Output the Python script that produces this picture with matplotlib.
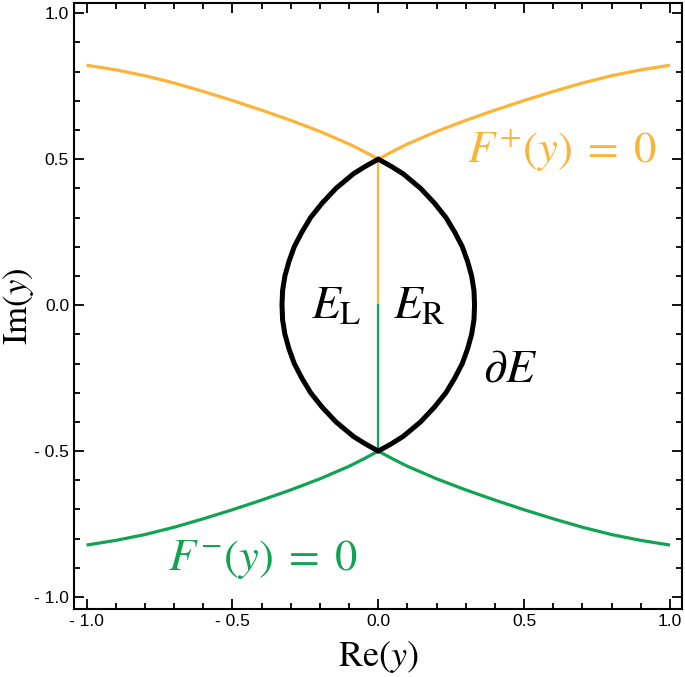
import numpy as np
import matplotlib
matplotlib.use("Agg")
import matplotlib.pyplot as plt
from matplotlib.patches import Polygon
from matplotlib.ticker import MultipleLocator

plt.rcParams['mathtext.fontset'] = 'stix'
plt.rcParams['font.family'] = ['Liberation Sans', 'DejaVu Sans']

# F+(y)=0 branch, right half, mirrored for the left half
fp_x = [0.0, 0.05, 0.1, 0.2, 0.3, 0.4, 0.5, 0.6, 0.7, 0.8, 0.9, 1.0]
fp_y = [0.5, 0.527, 0.552, 0.595, 0.633, 0.668, 0.701, 0.732, 0.761, 0.786, 0.806, 0.822]

# boundary dE: half-width of the lens vs Im(y), upper half
lens_y = [0.0, 0.05, 0.1, 0.15, 0.2, 0.25, 0.3, 0.35, 0.4, 0.425, 0.45, 0.475, 0.5]
lens_x = [0.330, 0.328, 0.320, 0.306, 0.288, 0.262, 0.232, 0.192, 0.145, 0.115, 0.085, 0.045, 0.0]

# cuts on the imaginary axis
cut_plus = [0.0, 0.5]
cut_minus = [-0.5, 0.0]

tick_vals = [-1.0, -0.5, 0.0, 0.5, 1.0]
tick_labels = ['- 1.0', '- 0.5', '0.0', '0.5', '1.0']

orange = '#FDB338'
green = '#12A352'

fig = plt.figure(figsize=(6.85, 6.77), dpi=100)
ax = fig.add_axes([0.108, 0.100, 0.8876, 0.896])

# F+ and F- curves
fx = np.array(fp_x)
fy = np.array(fp_y)
full_x = np.concatenate([-fx[::-1], fx[1:]])
full_y = np.concatenate([fy[::-1], fy[1:]])
ax.plot(full_x, full_y, color=orange, lw=2.3, solid_capstyle='butt')
ax.plot(full_x, -full_y, color=green, lw=2.3, solid_capstyle='butt')

# vertical cuts
ax.plot([0, 0], cut_plus, color=orange, lw=1.6)
ax.plot([0, 0], cut_minus, color=green, lw=1.6)

# closed lens boundary
ly = np.array(lens_y)
lx = np.array(lens_x)
right_y = np.concatenate([ly[::-1], -ly[1:]])
right_x = np.concatenate([lx[::-1], lx[1:]])
bx = np.concatenate([right_x, -right_x[::-1][1:-1]])
by = np.concatenate([right_y, right_y[::-1][1:-1]])
ax.add_patch(Polygon(np.column_stack([bx, by]), closed=True, fill=False,
                     edgecolor='black', lw=3.6, joinstyle='miter', zorder=3))

# labels inside the plot
ax.text(0.303, 0.489, r'$F^{+}(y)\;=\;0$', color=orange, fontsize=32, va='baseline', ha='left')
ax.text(-0.722, -0.907, r'$F^{-}(y)\;=\;0$', color=green, fontsize=32, va='baseline', ha='left')
ax.text(-0.232, -0.048, r'$E_{\mathrm{L}}$', fontsize=34, va='baseline', ha='left')
ax.text(0.051, -0.048, r'$E_{\mathrm{R}}$', fontsize=34, va='baseline', ha='left')
ax.text(0.36, -0.263, r'$\partial E$', fontsize=34, va='baseline', ha='left')

ax.set_xlim(-1.043, 1.041)
ax.set_ylim(-1.042, 1.036)

ax.set_xticks(tick_vals)
ax.set_xticklabels(tick_labels)
ax.set_yticks(tick_vals)
ax.set_yticklabels(tick_labels)
ax.xaxis.set_minor_locator(MultipleLocator(0.1))
ax.yaxis.set_minor_locator(MultipleLocator(0.1))
ax.tick_params(which='both', direction='in', top=True, right=True, width=1.3, labelsize=12.5)
ax.tick_params(which='major', length=7)
ax.tick_params(which='minor', length=4.5)
for s in ax.spines.values():
    s.set_linewidth(1.5)

ax.set_xlabel(r'$\mathrm{Re}(y)$', fontsize=26, labelpad=7)
ax.set_ylabel(r'$\mathrm{Im}(y)$', fontsize=25, va='center')
ax.yaxis.set_label_coords(-0.092, 0.5)

fig.savefig('out.png', dpi=100)
